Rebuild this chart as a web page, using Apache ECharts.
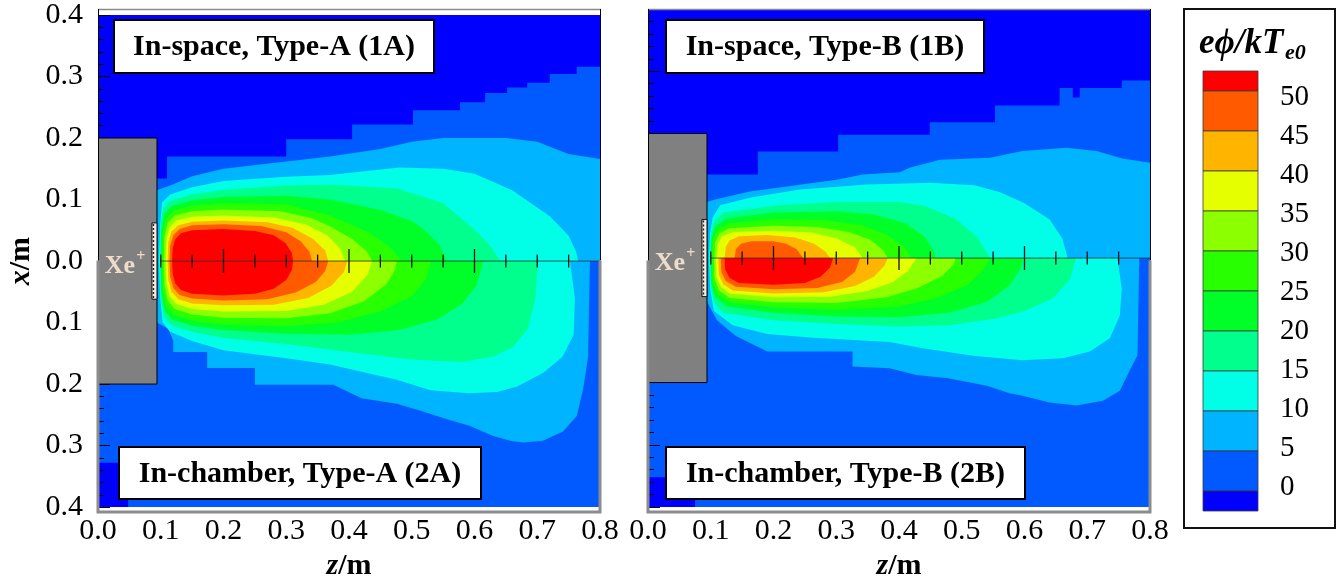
<!DOCTYPE html>
<html>
<head>
<meta charset="utf-8">
<script src="https://cdn.jsdelivr.net/npm/echarts@6/dist/echarts.min.js"></script>
<style>
html, body { margin: 0; padding: 0; background: #fff; }
#chart { width: 1340px; height: 586px; }
</style>
</head>
<body>
<div id="chart"></div>
<script>
// Potential levels e*phi/kTe0 and band colours (index 0 = below the lowest level)
const levels = [0, 5, 10, 15, 20, 25, 30, 35, 40, 45, 50];
const bandColors = ['#0000FF', '#005AFF', '#00B4FF', '#00FFE6', '#00FF8C', '#00FF28',
                    '#28FF00', '#8CFF00', '#E6FF00', '#FFB400', '#FF5A00', '#FF0000'];

// Each contour bounds the region where the potential is at or above a level.
// Points are [z, x] in metres; every region is closed along the axis x = 0.
const inSpaceA = [
  [[0.094,0.134],[0.11,0.134],[0.11,0.17],[0.3,0.17],[0.3,0.198],[0.405,0.198],[0.405,0.222],[0.502,0.222],[0.502,0.245],[0.577,0.245],[0.577,0.258],[0.617,0.258],[0.617,0.273],[0.652,0.273],[0.652,0.282],[0.684,0.282],[0.684,0.29],[0.72,0.29],[0.72,0.304],[0.763,0.304],[0.763,0.316],[0.8,0.316]],
  [[0.094,0.115],[0.12,0.125],[0.15,0.138],[0.2,0.15],[0.3,0.162],[0.37,0.17],[0.45,0.182],[0.5,0.194],[0.55,0.2],[0.65,0.2],[0.7,0.194],[0.75,0.174],[0.8,0.166]],
  [[0.097,0],[0.099,0.06],[0.102,0.095],[0.115,0.108],[0.15,0.12],[0.2,0.13],[0.3,0.137],[0.37,0.14],[0.48,0.152],[0.55,0.15],[0.6,0.142],[0.66,0.115],[0.72,0.073],[0.75,0.041],[0.762,0.015],[0.765,0]],
  [[0.099,0],[0.1,0.06],[0.104,0.085],[0.115,0.098],[0.15,0.108],[0.2,0.116],[0.3,0.123],[0.37,0.124],[0.476,0.118],[0.55,0.094],[0.6,0.051],[0.625,0.025],[0.641,0]],
  [[0.1,0],[0.101,0.05],[0.106,0.077],[0.118,0.09],[0.15,0.099],[0.2,0.104],[0.3,0.106],[0.37,0.1],[0.45,0.083],[0.5,0.065],[0.52,0.051],[0.545,0.025],[0.556,0]],
  [[0.102,0],[0.103,0.045],[0.108,0.068],[0.12,0.082],[0.15,0.09],[0.2,0.094],[0.3,0.092],[0.37,0.074],[0.433,0.046],[0.466,0.022],[0.484,0]],
  [[0.105,0],[0.106,0.04],[0.111,0.062],[0.122,0.074],[0.15,0.081],[0.2,0.084],[0.29,0.081],[0.34,0.07],[0.37,0.056],[0.405,0.036],[0.428,0.016],[0.437,0]],
  [[0.108,0],[0.109,0.035],[0.114,0.055],[0.125,0.066],[0.15,0.072],[0.2,0.074],[0.28,0.071],[0.33,0.06],[0.365,0.042],[0.386,0.02],[0.394,0]],
  [[0.111,0],[0.112,0.03],[0.117,0.048],[0.128,0.058],[0.15,0.064],[0.2,0.066],[0.27,0.063],[0.31,0.054],[0.343,0.036],[0.362,0.017],[0.367,0]],
  [[0.114,0],[0.115,0.025],[0.12,0.042],[0.13,0.052],[0.15,0.058],[0.2,0.06],[0.26,0.057],[0.3,0.047],[0.323,0.032],[0.337,0.015],[0.341,0]],
  [[0.118,0],[0.119,0.02],[0.123,0.035],[0.132,0.045],[0.15,0.05],[0.2,0.052],[0.25,0.049],[0.28,0.042],[0.299,0.029],[0.309,0.013],[0.311,0]]
];
const inChamberA = [
  [[0,-0.328],[0.048,-0.328],[0.048,-0.4],[0.8,-0.4]],
  [[0.094,-0.1],[0.112,-0.11],[0.12,-0.13],[0.12,-0.148],[0.174,-0.148],[0.174,-0.174],[0.25,-0.174],[0.25,-0.201],[0.375,-0.201],[0.42,-0.223],[0.476,-0.232],[0.513,-0.243],[0.55,-0.255],[0.593,-0.268],[0.629,-0.284],[0.657,-0.292],[0.677,-0.295],[0.709,-0.292],[0.741,-0.277],[0.763,-0.252],[0.773,-0.209],[0.781,-0.156],[0.783,-0.05],[0.784,0]],
  [[0.097,0],[0.099,-0.06],[0.103,-0.1],[0.115,-0.115],[0.15,-0.13],[0.2,-0.145],[0.3,-0.158],[0.37,-0.168],[0.42,-0.18],[0.476,-0.193],[0.53,-0.21],[0.59,-0.215],[0.636,-0.213],[0.668,-0.204],[0.709,-0.182],[0.74,-0.156],[0.758,-0.12],[0.76,-0.06],[0.752,0]],
  [[0.099,0],[0.1,-0.06],[0.105,-0.09],[0.118,-0.105],[0.15,-0.115],[0.2,-0.125],[0.3,-0.135],[0.4,-0.148],[0.5,-0.16],[0.58,-0.164],[0.63,-0.155],[0.661,-0.14],[0.685,-0.11],[0.697,-0.06],[0.701,0]],
  [[0.1,0],[0.101,-0.05],[0.106,-0.08],[0.118,-0.095],[0.15,-0.105],[0.2,-0.112],[0.3,-0.118],[0.4,-0.12],[0.48,-0.112],[0.54,-0.095],[0.58,-0.07],[0.603,-0.04],[0.614,0]],
  [[0.102,0],[0.103,-0.045],[0.108,-0.072],[0.12,-0.087],[0.15,-0.097],[0.2,-0.103],[0.3,-0.106],[0.38,-0.1],[0.45,-0.082],[0.5,-0.057],[0.522,-0.03],[0.531,0]],
  [[0.105,0],[0.106,-0.04],[0.111,-0.064],[0.122,-0.078],[0.15,-0.087],[0.2,-0.092],[0.3,-0.093],[0.37,-0.085],[0.425,-0.065],[0.46,-0.037],[0.473,-0.015],[0.476,0]],
  [[0.108,0],[0.109,-0.035],[0.114,-0.057],[0.125,-0.07],[0.15,-0.078],[0.2,-0.082],[0.3,-0.081],[0.36,-0.071],[0.405,-0.05],[0.43,-0.022],[0.437,0]],
  [[0.111,0],[0.112,-0.03],[0.117,-0.05],[0.128,-0.062],[0.15,-0.069],[0.2,-0.072],[0.28,-0.071],[0.335,-0.06],[0.372,-0.04],[0.392,-0.018],[0.397,0]],
  [[0.114,0],[0.115,-0.025],[0.12,-0.044],[0.13,-0.055],[0.15,-0.061],[0.2,-0.064],[0.27,-0.062],[0.315,-0.051],[0.347,-0.034],[0.362,-0.016],[0.367,0]],
  [[0.118,0],[0.119,-0.02],[0.123,-0.036],[0.132,-0.047],[0.15,-0.053],[0.2,-0.056],[0.25,-0.053],[0.28,-0.045],[0.3,-0.031],[0.309,-0.014],[0.311,0]]
];
const inSpaceB = [
  [[0.094,0.134],[0.175,0.134],[0.175,0.171],[0.303,0.171],[0.303,0.198],[0.449,0.198],[0.449,0.218],[0.553,0.218],[0.553,0.245],[0.656,0.245],[0.656,0.273],[0.677,0.273],[0.677,0.258],[0.688,0.258],[0.688,0.273],[0.755,0.273],[0.755,0.285],[0.8,0.285]],
  [[0.094,0.09],[0.107,0.094],[0.162,0.107],[0.221,0.115],[0.303,0.126],[0.342,0.134],[0.401,0.138],[0.417,0.145],[0.465,0.158],[0.545,0.161],[0.597,0.172],[0.667,0.177],[0.715,0.172],[0.756,0.16],[0.8,0.153]],
  [[0.097,0],[0.099,0.04],[0.103,0.065],[0.115,0.085],[0.162,0.097],[0.242,0.11],[0.349,0.118],[0.45,0.121],[0.52,0.117],[0.56,0.106],[0.6,0.088],[0.64,0.062],[0.66,0.032],[0.669,0]],
  [[0.099,0],[0.1,0.035],[0.105,0.058],[0.12,0.073],[0.2,0.084],[0.3,0.09],[0.4,0.09],[0.44,0.084],[0.49,0.063],[0.525,0.033],[0.545,0]],
  [[0.1,0],[0.101,0.03],[0.107,0.05],[0.125,0.064],[0.2,0.073],[0.3,0.075],[0.36,0.07],[0.41,0.056],[0.44,0.035],[0.455,0.013],[0.458,0]],
  [[0.102,0],[0.103,0.028],[0.11,0.046],[0.13,0.056],[0.2,0.062],[0.28,0.061],[0.34,0.053],[0.38,0.038],[0.408,0.018],[0.42,0]],
  [[0.106,0],[0.107,0.025],[0.114,0.04],[0.13,0.048],[0.2,0.052],[0.27,0.05],[0.32,0.042],[0.355,0.029],[0.375,0.012],[0.382,0]],
  [[0.11,0],[0.111,0.022],[0.118,0.035],[0.135,0.042],[0.2,0.044],[0.26,0.041],[0.3,0.032],[0.33,0.017],[0.342,0]],
  [[0.122,0],[0.124,0.018],[0.13,0.028],[0.145,0.035],[0.19,0.037],[0.235,0.033],[0.265,0.023],[0.283,0.01],[0.29,0]],
  [[0.138,0],[0.14,0.014],[0.148,0.023],[0.165,0.027],[0.2,0.027],[0.22,0.023],[0.237,0.014],[0.247,0]],
  null
];
const inChamberB = [
  [[0,-0.352],[0.075,-0.352],[0.075,-0.4],[0.8,-0.4]],
  [[0.094,-0.07],[0.11,-0.1],[0.14,-0.125],[0.19,-0.15],[0.326,-0.15],[0.326,-0.174],[0.385,-0.177],[0.428,-0.188],[0.478,-0.193],[0.54,-0.205],[0.576,-0.217],[0.597,-0.221],[0.64,-0.232],[0.683,-0.237],[0.725,-0.229],[0.752,-0.213],[0.767,-0.182],[0.78,-0.156],[0.782,-0.05],[0.783,0]],
  [[0.097,0],[0.099,-0.05],[0.105,-0.085],[0.135,-0.108],[0.19,-0.122],[0.263,-0.128],[0.385,-0.135],[0.438,-0.145],[0.518,-0.157],[0.597,-0.164],[0.661,-0.161],[0.704,-0.15],[0.736,-0.129],[0.752,-0.092],[0.755,-0.049],[0.748,0]],
  [[0.099,0],[0.1,-0.045],[0.105,-0.07],[0.12,-0.088],[0.2,-0.1],[0.3,-0.106],[0.4,-0.11],[0.48,-0.108],[0.55,-0.098],[0.6,-0.085],[0.645,-0.065],[0.672,-0.035],[0.682,0]],
  [[0.1,0],[0.101,-0.04],[0.107,-0.062],[0.125,-0.078],[0.2,-0.088],[0.3,-0.094],[0.4,-0.095],[0.48,-0.088],[0.54,-0.07],[0.575,-0.045],[0.593,-0.018],[0.598,0]],
  [[0.102,0],[0.103,-0.038],[0.11,-0.058],[0.13,-0.071],[0.2,-0.079],[0.3,-0.083],[0.4,-0.078],[0.46,-0.064],[0.51,-0.043],[0.535,-0.018],[0.545,0]],
  [[0.105,0],[0.106,-0.033],[0.113,-0.052],[0.13,-0.064],[0.2,-0.071],[0.3,-0.072],[0.38,-0.063],[0.43,-0.048],[0.47,-0.028],[0.487,-0.01],[0.49,0]],
  [[0.108,0],[0.109,-0.03],[0.116,-0.046],[0.13,-0.057],[0.2,-0.063],[0.29,-0.062],[0.35,-0.053],[0.39,-0.039],[0.415,-0.02],[0.428,0]],
  [[0.112,0],[0.113,-0.027],[0.12,-0.042],[0.135,-0.052],[0.2,-0.057],[0.28,-0.055],[0.33,-0.045],[0.36,-0.03],[0.377,-0.012],[0.382,0]],
  [[0.116,0],[0.117,-0.023],[0.124,-0.037],[0.14,-0.046],[0.2,-0.05],[0.27,-0.048],[0.31,-0.038],[0.33,-0.022],[0.338,0]],
  [[0.122,0],[0.123,-0.018],[0.13,-0.032],[0.145,-0.04],[0.2,-0.043],[0.25,-0.04],[0.275,-0.03],[0.29,-0.015],[0.295,0]]
];

// Thruster body, ion exit strip, and the measuring rule along the axis
const thrusterBody = [[0, -0.2], [0.094, 0.2]];
const exitStrip = [[0.086, -0.062], [0.094, 0.062]];
const xeLabelAt = [[0.046, -0.008]];
const ruleSpan = [[0.1, 0], [0.8, 0]];
const ruleMinor = [0.1, 0.15, 0.25, 0.3, 0.35, 0.45, 0.5, 0.55, 0.65, 0.7, 0.75];
const ruleMajor = [0.2, 0.4, 0.6];

const panelTitles = [
  ['In-space, Type-A (1A)', 'In-chamber, Type-A (2A)'],
  ['In-space, Type-B (1B)', 'In-chamber, Type-B (2B)']
];

// ---- layout ----
const serif = "'Liberation Serif', 'Times New Roman', 'DejaVu Serif', serif";
const gridLeft = [98, 648];
const gridTop = 9, gridW = 502, gridH = 503;

function closedRegion(curve) {
  const pts = curve.slice();
  if (pts[0][1] !== 0) pts.unshift([pts[0][0], 0]);
  const last = pts[pts.length - 1];
  if (last[1] !== 0) pts.push([last[0], 0]);
  return pts;
}

function regionSeries(curve, color, gi) {
  const pts = closedRegion(curve);
  return {
    type: 'custom', xAxisIndex: gi, yAxisIndex: gi, z: 2, silent: true, clip: true,
    data: pts,
    renderItem: function (params, api) {
      if (params.dataIndex !== 0) return null;
      return { type: 'polygon', shape: { points: pts.map(p => api.coord(p)) }, style: { fill: color } };
    }
  };
}

const series = [];
[[inSpaceA, inChamberA], [inSpaceB, inChamberB]].forEach(function (halves, gi) {
  halves.forEach(function (curves) {
    curves.forEach(function (c, li) { if (c) series.push(regionSeries(c, bandColors[li + 1], gi)); });
  });
  // thruster with exit strip and label
  series.push({
    type: 'custom', xAxisIndex: gi, yAxisIndex: gi, z: 6, silent: true, clip: true,
    data: [0],
    renderItem: function (params, api) {
      const a = api.coord([thrusterBody[0][0], thrusterBody[1][1]]);
      const b = api.coord([thrusterBody[1][0], thrusterBody[0][1]]);
      const s1 = api.coord([exitStrip[0][0], exitStrip[1][1]]);
      const s2 = api.coord([exitStrip[1][0], exitStrip[0][1]]);
      const t = api.coord(xeLabelAt[0]);
      return { type: 'group', children: [
        { type: 'rect', shape: { x: a[0] - 2, y: a[1], width: b[0] - a[0] + 2, height: b[1] - a[1] },
          style: { fill: '#808080', stroke: '#000', lineWidth: 1 } },
        { type: 'rect', shape: { x: s1[0], y: s1[1], width: s2[0] - s1[0], height: s2[1] - s1[1] },
          style: { fill: '#F7EADF', stroke: '#111', lineWidth: 1 } },
        { type: 'line', shape: { x1: s1[0] + 1.5, y1: s1[1] + 1, x2: s1[0] + 1.5, y2: s2[1] - 1 },
          style: { stroke: '#222', lineWidth: 1.4, lineDash: [2, 2] } },
        { type: 'text', x: t[0] - 7, y: t[1], style: { text: 'Xe', fill: '#EEDCCB', font: 'bold 26px ' + serif, align: 'center', verticalAlign: 'middle' } },
        { type: 'text', x: t[0] + 14, y: t[1] - 9, style: { text: '+', fill: '#EEDCCB', font: 'bold 16px ' + serif, align: 'center', verticalAlign: 'middle' } }
      ] };
    }
  });
  // axis line of the rule
  series.push({
    type: 'line', xAxisIndex: gi, yAxisIndex: gi, z: 7, silent: true, symbol: 'none',
    data: ruleSpan, lineStyle: { color: '#303030', width: 1, opacity: 0.8 }
  });
  // rule ticks
  const ticks = ruleMinor.map(z => [z, 0, 0]).concat(ruleMajor.map(z => [z, 0, 1]));
  series.push({
    type: 'custom', xAxisIndex: gi, yAxisIndex: gi, z: 7, silent: true,
    data: ticks,
    renderItem: function (params, api) {
      const p = api.coord([api.value(0), api.value(1)]);
      const h = api.value(2) ? 12 : 6.5;
      return { type: 'line', shape: { x1: p[0], y1: p[1] - h, x2: p[0], y2: p[1] + h },
        style: { stroke: '#111', lineWidth: 1.3 } };
    }
  });
});

function xAxisCfg(gi) {
  return {
    gridIndex: gi, type: 'value', min: 0, max: 0.8, interval: 0.1,
    axisLine: { show: false }, axisTick: { show: false }, splitLine: { show: false },
    axisLabel: { color: '#000', fontFamily: serif, fontSize: 30, margin: 9, formatter: v => v.toFixed(1) },
    name: '{i|z}{n|/m}', nameLocation: 'middle', nameGap: 40,
    nameTextStyle: { fontFamily: serif, fontSize: 30, fontWeight: 'bold', color: '#000',
      rich: { i: { fontFamily: serif, fontSize: 30, fontWeight: 'bold', fontStyle: 'italic' },
              n: { fontFamily: serif, fontSize: 30, fontWeight: 'bold' } } }
  };
}
function yAxisCfg(gi) {
  return {
    gridIndex: gi, type: 'value', min: -0.4, max: 0.4, interval: 0.1, z: 5,
    axisLine: { show: false }, splitLine: { show: false },
    axisTick: { show: true, inside: true, length: 12, lineStyle: { color: '#000', width: 1 } },
    minorTick: { show: true, splitNumber: 5, length: 6, lineStyle: { color: '#000', width: 1 } },
    axisLabel: { show: gi === 0, color: '#000', fontFamily: serif, fontSize: 30, margin: 15,
      formatter: v => Math.abs(v).toFixed(1) },
    name: gi === 0 ? '{i|x}{n|/m}' : '', nameLocation: 'middle', nameGap: 62, nameRotate: 90,
    nameTextStyle: { fontFamily: serif, fontSize: 30, fontWeight: 'bold', color: '#000',
      rich: { i: { fontFamily: serif, fontSize: 30, fontWeight: 'bold', fontStyle: 'italic' },
              n: { fontFamily: serif, fontSize: 30, fontWeight: 'bold' } } }
  };
}

// ---- frames, captions and colour scale ----
const graphics = [];
gridLeft.forEach(function (L, gi) {
  const R = L + gridW, T = gridTop, B = gridTop + gridH, M = gridTop + gridH / 2;
  graphics.push(
    { type: 'line', z: 20, shape: { x1: L, y1: T + 0.5, x2: R + 1, y2: T + 0.5 }, style: { stroke: '#8a8a8a', lineWidth: 1.5 } },
    { type: 'line', z: 20, shape: { x1: L + 0.5, y1: T, x2: L + 0.5, y2: M }, style: { stroke: '#000', lineWidth: 1 } },
    { type: 'line', z: 20, shape: { x1: R + 0.5, y1: T, x2: R + 0.5, y2: M }, style: { stroke: '#000', lineWidth: 1 } },
    { type: 'polyline', z: 20, shape: { points: [[L, M], [L, B], [R, B], [R, M]] }, style: { stroke: '#8c8c8c', lineWidth: 3, fill: null } }
  );
  const boxes = gi === 0
    ? [[114, 20, 320, 53], [119, 447, 362, 52]]
    : [[666, 20, 318, 53], [666, 447, 359, 52]];
  boxes.forEach(function (bx, k) {
    graphics.push({ type: 'rect', z: 21, shape: { x: bx[0], y: bx[1], width: bx[2], height: bx[3] },
      style: { fill: '#fff', stroke: '#000', lineWidth: 2 } });
    graphics.push({ type: 'text', z: 22, x: bx[0] + bx[2] / 2, y: bx[1] + bx[3] / 2 + 1,
      style: { text: panelTitles[gi][k], font: 'bold 30px ' + serif, fill: '#000', align: 'center', verticalAlign: 'middle' } });
  });
});

// colour scale
const cbX = 1203, cbW = 55, cbTop = 71, cbStep = 40, cbEnd = 20;
graphics.push({ type: 'rect', z: 20, shape: { x: 1184, y: 9, width: 151, height: 519 },
  style: { fill: '#fff', stroke: '#111', lineWidth: 2 } });
let yCursor = cbTop;
for (let i = bandColors.length - 1; i >= 0; i--) {
  const h = (i === bandColors.length - 1 || i === 0) ? cbEnd : cbStep;
  graphics.push({ type: 'rect', z: 21, shape: { x: cbX, y: yCursor, width: cbW, height: h },
    style: { fill: bandColors[i], stroke: '#3a3a3a', lineWidth: 0.8 } });
  yCursor += h;
}
levels.slice().reverse().forEach(function (lv, k) {
  graphics.push({ type: 'text', z: 22, x: 1280, y: 97 + k * 39,
    style: { text: String(lv), font: '29px ' + serif, fill: '#000', align: 'left', verticalAlign: 'middle' } });
});
graphics.push({ type: 'text', z: 22, x: 1199, y: 44,
  style: { text: 'eϕ/kT', font: 'italic bold 35px ' + serif, fill: '#000', align: 'left', verticalAlign: 'middle' } });
graphics.push({ type: 'text', z: 22, x: 1285, y: 53,
  style: { text: 'e0', font: 'italic bold 22px ' + serif, fill: '#000', align: 'left', verticalAlign: 'middle' } });

const chart = echarts.init(document.getElementById('chart'), null, { renderer: 'canvas' });
chart.setOption({
  animation: false,
  backgroundColor: '#fff',
  grid: gridLeft.map(L => ({ left: L, top: gridTop, width: gridW, height: gridH, show: true,
    backgroundColor: bandColors[0], borderWidth: 0 })),
  xAxis: [xAxisCfg(0), xAxisCfg(1)],
  yAxis: [yAxisCfg(0), yAxisCfg(1)],
  series: series,
  graphic: graphics
});
</script>
</body>
</html>
